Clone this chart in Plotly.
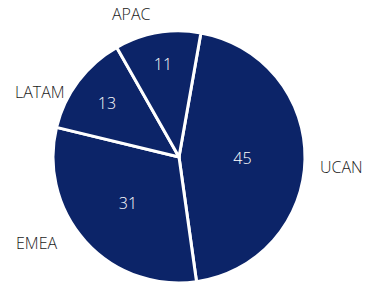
import plotly.graph_objects as go

regions = ["UCAN", "EMEA", "LATAM", "APAC"]
shares = [45, 31, 13, 11]
# outside label anchor positions (pixels in the 367x286 picture)
label_px = {"UCAN": (341, 167), "EMEA": (36, 243), "LATAM": (40, 92), "APAC": (131, 14)}

W, H = 367, 286
navy = "#0c2468"

fig = go.Figure(go.Pie(
    labels=regions,
    values=shares,
    sort=False,
    direction="clockwise",
    rotation=10,
    marker=dict(colors=[navy] * len(regions), line=dict(color="white", width=3)),
    textinfo="value",
    textposition="inside",
    insidetextorientation="horizontal",
    insidetextfont=dict(color="white", size=16, family="Open Sans", weight=300),
    domain=dict(x=[53 / W, 305 / W], y=[1 - 283 / H, 1 - 31 / H]),
    showlegend=False,
    hoverinfo="label+value",
))

for r in regions:
    px, py = label_px[r]
    fig.add_annotation(
        x=px / W, y=1 - py / H, xref="paper", yref="paper",
        text=r, showarrow=False,
        font=dict(size=16, color="#1a1a1a", family="Open Sans", weight=300),
        xanchor="center", yanchor="middle",
    )

fig.update_layout(
    width=W, height=H,
    margin=dict(l=0, r=0, t=0, b=0),
    paper_bgcolor="white",
    plot_bgcolor="white",
)

fig.write_html(
    "out.html",
    config={"displayModeBar": False},
    post_script="document.body.style.margin='0';document.body.style.overflow='hidden';",
)
